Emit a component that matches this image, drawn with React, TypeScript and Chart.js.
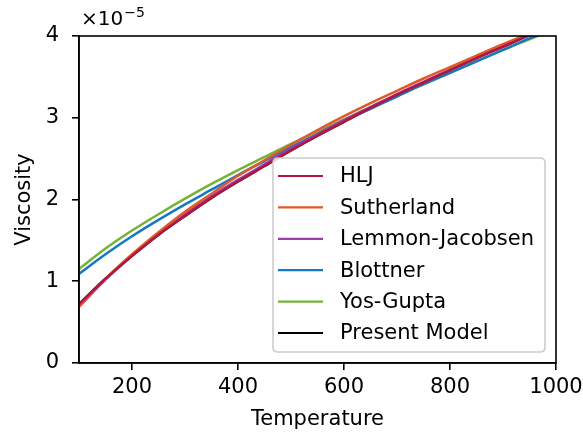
import React, { useEffect, useRef } from "react";
import { Chart, registerables } from "chart.js";

Chart.register(...registerables);

// Temperature grid (K)
const temperature = [100, 150, 200, 250, 300, 350, 400, 450, 500, 550, 600, 650, 700, 750, 800, 850, 900, 950, 1000];

// Viscosity values in units of 1e-5
const hlj = [0.72, 1.03, 1.31, 1.57, 1.80, 2.02, 2.22, 2.41, 2.60, 2.78, 2.95, 3.12, 3.28, 3.43, 3.58, 3.73, 3.87, 4.01, 4.14];
const sutherland = [0.69, 1.03, 1.33, 1.60, 1.85, 2.07, 2.29, 2.48, 2.67, 2.85, 3.02, 3.18, 3.33, 3.48, 3.62, 3.76, 3.90, 4.03, 4.15];
const lemmonJacobsen = [0.69, 1.02, 1.31, 1.58, 1.82, 2.04, 2.24, 2.43, 2.62, 2.80, 2.97, 3.13, 3.29, 3.44, 3.59, 3.73, 3.87, 4.01, 4.14];
const blottner = [1.09, 1.33, 1.55, 1.75, 1.94, 2.12, 2.30, 2.47, 2.64, 2.80, 2.96, 3.11, 3.26, 3.41, 3.55, 3.69, 3.83, 3.97, 4.10];
const yosGupta = [1.15, 1.40, 1.62, 1.82, 2.01, 2.19, 2.36, 2.52, 2.68, 2.83, 2.98, 3.13, 3.27, 3.41, 3.55, 3.69, 3.83, 3.96, 4.09];
const presentModel = [0.72, 1.03, 1.31, 1.57, 1.80, 2.02, 2.22, 2.41, 2.60, 2.78, 2.95, 3.12, 3.28, 3.43, 3.58, 3.73, 3.87, 4.01, 4.14];

const seriesLabels = ["HLJ", "Sutherland", "Lemmon-Jacobsen", "Blottner", "Yos-Gupta", "Present Model"];
const seriesValues = [hlj, sutherland, lemmonJacobsen, blottner, yosGupta, presentModel];
const seriesColors = ["#b0173f", "#e05a28", "#9c3aae", "#1479c4", "#77b237", "#000000"];

const xTicks = [200, 400, 600, 800, 1000];
const yTicks = [0, 1, 2, 3, 4];
const xTitle = "Temperature";
const yTitle = "Viscosity";
const FONT = "'DejaVu Sans', sans-serif";
const FS = 21;

const framePlugin = {
  id: "frameAndLegend",
  afterDatasetsDraw(chart: any) {
    const { ctx, chartArea } = chart;
    ctx.save();
    // frame
    ctx.strokeStyle = "#000";
    ctx.lineWidth = 1.6;
    ctx.strokeRect(chartArea.left, chartArea.top, chartArea.right - chartArea.left, chartArea.bottom - chartArea.top);

    // offset text
    ctx.fillStyle = "#000";
    ctx.textBaseline = "alphabetic";
    ctx.textAlign = "left";
    ctx.font = `20px ${FONT}`;
    const base = chartArea.left + 2;
    ctx.fillText("\u00d710", base, 25);
    const w = ctx.measureText("\u00d710").width;
    ctx.font = `14px ${FONT}`;
    ctx.fillText("\u22125", base + w + 1, 17);

    // legend
    const lx = 273, ly = 158, lw = 272, lh = 194, r = 5;
    ctx.beginPath();
    ctx.moveTo(lx + r, ly);
    ctx.lineTo(lx + lw - r, ly);
    ctx.quadraticCurveTo(lx + lw, ly, lx + lw, ly + r);
    ctx.lineTo(lx + lw, ly + lh - r);
    ctx.quadraticCurveTo(lx + lw, ly + lh, lx + lw - r, ly + lh);
    ctx.lineTo(lx + r, ly + lh);
    ctx.quadraticCurveTo(lx, ly + lh, lx, ly + lh - r);
    ctx.lineTo(lx, ly + r);
    ctx.quadraticCurveTo(lx, ly, lx + r, ly);
    ctx.closePath();
    ctx.fillStyle = "rgba(255,255,255,0.8)";
    ctx.fill();
    ctx.strokeStyle = "#cccccc";
    ctx.lineWidth = 1.6;
    ctx.stroke();

    ctx.font = `${FS}px ${FONT}`;
    ctx.textBaseline = "middle";
    chart.data.datasets.forEach((ds: any, i: number) => {
      const y = 176 + i * 31.4;
      ctx.strokeStyle = ds.borderColor;
      ctx.lineWidth = 2.2;
      ctx.beginPath();
      ctx.moveTo(278, y);
      ctx.lineTo(323, y);
      ctx.stroke();
      ctx.fillStyle = "#000";
      ctx.fillText(ds.label, 340, y + 1);
    });
    ctx.restore();
  },
};

export default function App() {
  const ref = useRef<HTMLCanvasElement>(null);
  useEffect(() => {
    document.body.style.margin = "0";
    const canvas = ref.current!;
    const chart = new Chart(canvas, {
      type: "line",
      data: {
        datasets: seriesLabels.map((label, i) => ({
          label,
          data: temperature.map((t, j) => ({ x: t, y: seriesValues[i][j] })),
          borderColor: seriesColors[i],
          backgroundColor: seriesColors[i],
          borderWidth: 2.5,
          pointRadius: 0,
          fill: false,
          tension: 0.3,
        })),
      },
      options: {
        responsive: false,
        animation: false,
        events: [],
        layout: { padding: { left: 0, top: 36, right: 27, bottom: 0 } },
        plugins: { legend: { display: false }, tooltip: { enabled: false } },
        scales: {
          x: {
            type: "linear",
            min: 100,
            max: 1000,
            afterBuildTicks: (s: any) => {
              s.ticks = xTicks.map((v) => ({ value: v }));
            },
            afterFit: (s: any) => {
              s.height = 73;
              s.paddingRight = 0;
              s.paddingLeft = 0;
            },
            grid: { display: true, drawOnChartArea: false, drawTicks: true, tickLength: 7, color: "#000", lineWidth: 1.6 },
            border: { display: true, color: "#000", width: 1.6 },
            ticks: {
              color: "#000",
              font: { family: FONT, size: FS },
              padding: 5,
              maxRotation: 0,
              autoSkip: false,
              callback: (v: any) => String(v),
            },
            title: { display: true, text: xTitle, color: "#000", font: { family: FONT, size: FS }, padding: { top: 0, bottom: 4 } },
          },
          y: {
            type: "linear",
            min: 0,
            max: 4,
            afterBuildTicks: (s: any) => {
              s.ticks = yTicks.map((v) => ({ value: v }));
            },
            afterFit: (s: any) => {
              s.width = 79;
              s.paddingTop = 0;
              s.paddingBottom = 0;
            },
            grid: { display: true, drawOnChartArea: false, drawTicks: true, tickLength: 7, color: "#000", lineWidth: 1.6 },
            border: { display: true, color: "#000", width: 1.6 },
            ticks: { color: "#000", font: { family: FONT, size: FS }, padding: 13, autoSkip: false, callback: (v: any) => String(v) },
            title: { display: true, text: yTitle, color: "#000", font: { family: FONT, size: FS }, padding: { top: 12, bottom: 0 } },
          },
        },
      },
      plugins: [framePlugin],
    });
    return () => chart.destroy();
  }, []);
  return (
    <div style={{ position: "fixed", left: 0, top: 0, width: 583, height: 436, background: "#fff" }}>
      <canvas ref={ref} width={583} height={436} style={{ display: "block" }} />
    </div>
  );
}
